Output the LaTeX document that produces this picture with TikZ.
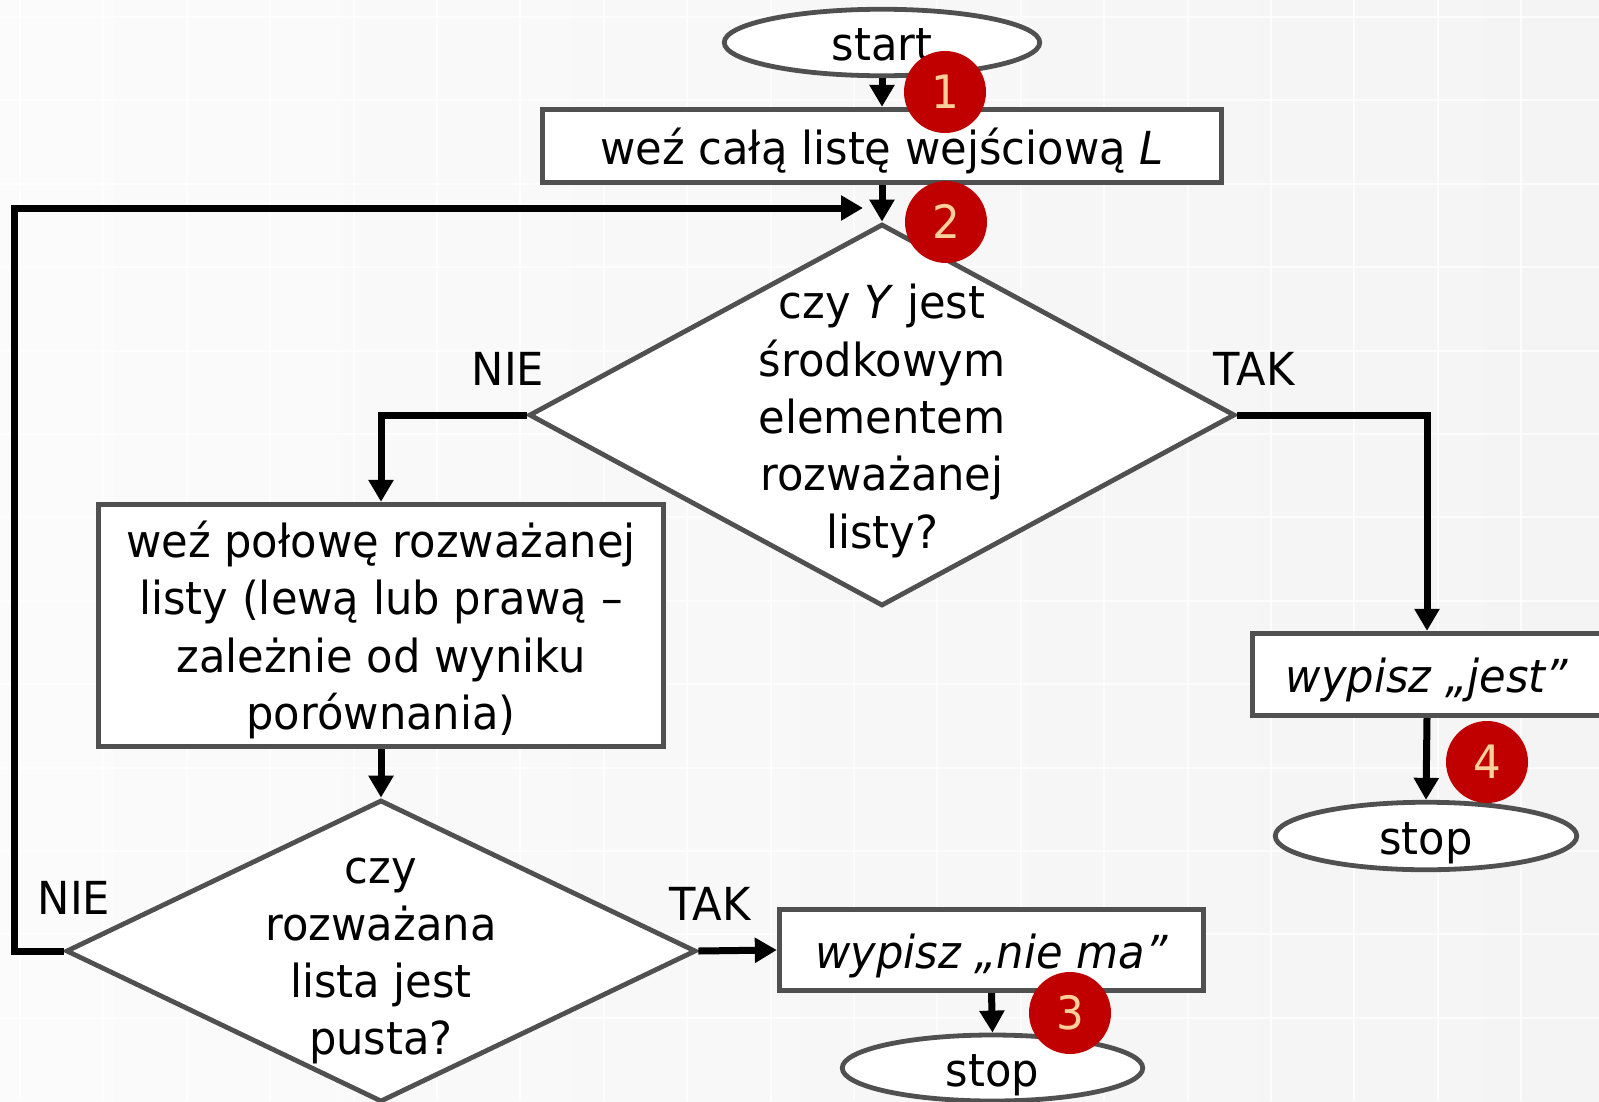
\documentclass[tikz,border=0pt]{standalone}
\usepackage{fontspec}
\setmainfont{DejaVu Sans}[FakeStretch=0.95]
\usetikzlibrary{shapes.geometric,arrows.meta}
\definecolor{bordergray}{HTML}{505050}
\definecolor{badgered}{HTML}{C00000}
\definecolor{badgetext}{HTML}{F9CF9A}
\definecolor{bgleft}{HTML}{FBFBFB}
\definecolor{bgmid}{HTML}{E2E2E2}
\definecolor{bgright}{HTML}{F4F4F4}
\newcommand\mainfs{\fontsize{45.5}{57.3}\selectfont}
\begin{document}
\begin{tikzpicture}[x=1pt,y=-1pt,
  shapeline/.style={draw=bordergray, line width=4.8pt, fill=white, inner sep=0pt},
  boxnode/.style={shapeline, rectangle, font=\mainfs, text height=36pt, text depth=0pt},
  termnode/.style={shapeline, ellipse, font=\mainfs, text height=36pt, text depth=0pt},
  decnode/.style={shapeline, diamond},
  multitext/.style={font=\mainfs, align=center, inner sep=0pt},
  lbl/.style={font=\mainfs, inner sep=0pt, text height=33.2pt, text depth=0pt},
  conn/.style={draw=black, line width=7pt, -{Triangle[width=24pt,length=22pt]}},
  badge/.style={circle, fill=badgered, minimum size=82pt, inner sep=0pt, text=badgetext,
    font=\fontsize{46}{46}\selectfont, text height=33.5pt, text depth=0pt}
]
% background
\useasboundingbox (0,0) rectangle (1599,1101);
\shade[left color=bgleft, middle color=bgmid, right color=bgright] (0,0) rectangle (1599,1101);
\foreach \k in {0,...,18} \draw[white, line width=2pt, opacity=0.75] ({20+83.4*\k},0) -- ({20+83.4*\k},1101);
\foreach \k in {0,...,12} \draw[white, line width=2pt, opacity=0.75] (0,{17+83.4*\k}) -- (1599,{17+83.4*\k});

% shapes
\node[termnode, minimum width=315.5pt, minimum height=66.5pt] (start) at (882,42.5) {start};
\node[boxnode, minimum width=679.5pt, minimum height=73.5pt] (box1) at (882,146) {weź całą listę wejściową \textit{L}};
\node[decnode, minimum width=706pt, minimum height=382pt] (d1) at (882,415) {};
\node[multitext] (d1text) at (882,421) {czy \textit{Y} jest\\środkowym\\elementem\\rozważanej\\listy?};
\node[boxnode, minimum width=565.5pt, minimum height=242.5pt] (lbox) at (381,625.5) {};
\node[multitext] (lboxtext) at (381,630) {weź połowę rozważanej\\listy (lewą lub prawą –\\zależnie od wyniku\\porównania)};
\node[decnode, minimum width=630pt, minimum height=302pt] (d2) at (381,951) {};
\node[multitext] (d2text) at (381,961) {czy\\rozważana\\lista jest\\pusta?};
\node[boxnode, minimum width=349.5pt, minimum height=82.5pt] (jest) at (1427,674.5) {\textit{wypisz „jest”}};
\node[termnode, minimum width=301.5pt, minimum height=67.5pt] (stopA) at (1426,836) {stop};
\node[boxnode, minimum width=424.5pt, minimum height=81.5pt] (niema) at (991.5,950) {\textit{wypisz „nie ma”}};
\node[termnode, minimum width=300.5pt, minimum height=66pt] (stopB) at (992.5,1068) {stop};

% labels
\node[lbl] (nie1) at (508,368.5) {NIE};
\node[lbl] (tak1) at (1254,368.5) {TAK};
\node[lbl] (nie2) at (74,898) {NIE};
\node[lbl] (tak2) at (710,904) {TAK};

% connectors
\coordinate (loopx) at (14,951);
\coordinate (loopend) at (863,208);
\draw[conn] (start.south) -- (box1.north);
\draw[conn] (box1.south) -- (d1.north);
\draw[conn] (d1.west) -| (lbox.north);
\draw[conn] (d1.east) -| (jest.north);
\draw[conn] (lbox.south) -- (d2.north);
\draw[conn] (d2.east) -- (niema.west);
\draw[conn] (niema.south) -- (stopB.north);
\draw[conn] (jest.south) -- (stopA.north);
\draw[conn] (d2.west) -- (loopx) |- (loopend);

% badges
\node[badge] (b1) at (945,92) {1};
\node[badge] (b2) at (946,222) {2};
\node[badge] (b3) at (1070,1013) {3};
\node[badge] (b4) at (1487,762) {4};
\end{tikzpicture}
\end{document}
